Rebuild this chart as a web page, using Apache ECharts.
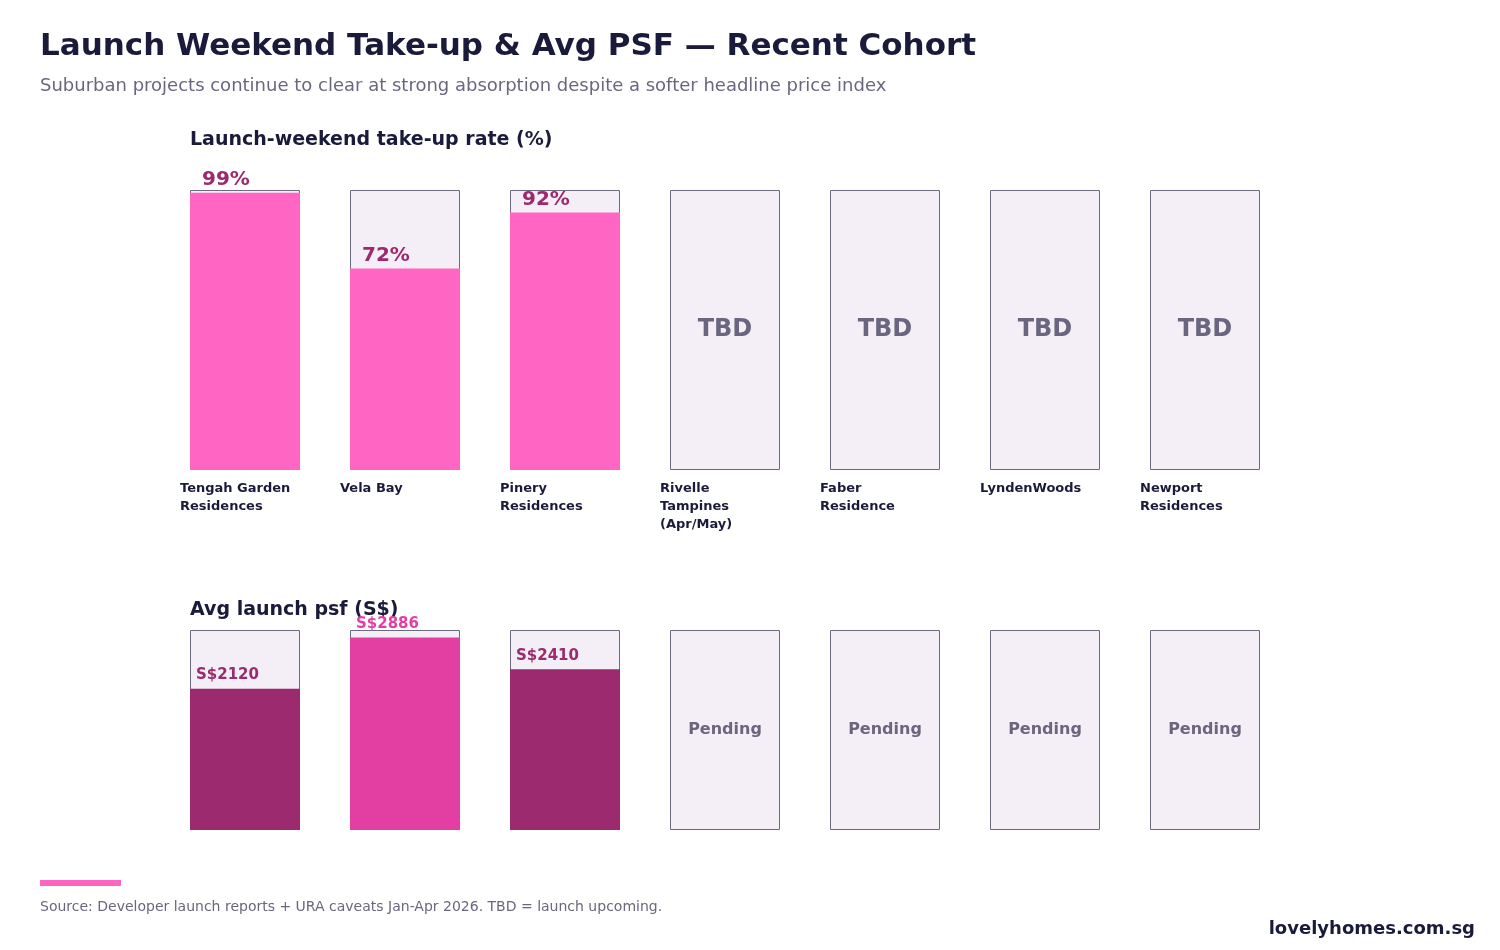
<!DOCTYPE html>
<html><head><meta charset="utf-8">
<script src="https://cdn.jsdelivr.net/npm/echarts@6/dist/echarts.min.js"></script>
<style>html,body{margin:0;padding:0;background:#fff}#c{width:1500px;height:950px}</style>
</head><body><div id="c"></div>
<script>
const categories = ['Tengah Garden\nResidences','Vela Bay','Pinery\nResidences','Rivelle\nTampines\n(Apr/May)','Faber\nResidence','LyndenWoods','Newport\nResidences'];
const takeUp = [99, 72, 92, null, null, null, null];
const psf = [2120, 2886, 2410, null, null, null, null];
const takeUpMax = 100;
const psfMax = 3000;
const psfColors = ['#9b2a6e', '#e33fa3', '#9b2a6e'];

const F = 'DejaVu Sans, sans-serif';
const chart = echarts.init(document.getElementById('c'));
const bgStyle = {color: '#f4eef6', borderColor: '#6b6b80', borderWidth: 1};
function bgData(max, txt, size) {
  return categories.map((c, i) => ({
    value: max,
    label: (takeUp[i] == null) ? {show: true, position: 'inside', formatter: txt, color: '#6b6680', fontSize: size, fontWeight: 'bold', fontFamily: F} : {show: false}
  }));
}
chart.setOption({
  animation: false,
  grid: [
    {left: 165, width: 1120, top: 190, height: 280},
    {left: 165, width: 1120, top: 630, height: 200}
  ],
  xAxis: [0, 1].map(g => ({type: 'category', gridIndex: g, data: categories, axisLine: {show: false}, axisTick: {show: false}, axisLabel: {show: false}})),
  yAxis: [
    {gridIndex: 0, min: 0, max: takeUpMax, show: false},
    {gridIndex: 1, min: 0, max: psfMax, show: false}
  ],
  series: [
    {type: 'bar', xAxisIndex: 0, yAxisIndex: 0, barWidth: 110, barGap: '-100%', itemStyle: bgStyle, data: bgData(takeUpMax, 'TBD', 24), silent: true},
    {type: 'bar', xAxisIndex: 0, yAxisIndex: 0, barWidth: 110, barGap: '-100%', itemStyle: {color: '#ff66c4'},
      label: {show: true, position: [12, -3], verticalAlign: 'bottom', align: 'left', formatter: p => p.value + '%', color: '#9b2a6e', fontSize: 20, fontWeight: 'bold', fontFamily: F},
      data: takeUp},
    {type: 'bar', xAxisIndex: 1, yAxisIndex: 1, barWidth: 110, barGap: '-100%', itemStyle: bgStyle, data: bgData(psfMax, 'Pending', 16), silent: true},
    {type: 'bar', xAxisIndex: 1, yAxisIndex: 1, barWidth: 110, barGap: '-100%',
      data: psf.map((v, i) => v == null ? null : ({value: v, itemStyle: {color: psfColors[i]},
        label: {show: true, position: [6, -6], verticalAlign: 'bottom', align: 'left', formatter: 'S$' + v, color: psfColors[i], fontSize: 15, fontWeight: 'bold', fontFamily: F}}))}
  ]
});
const g = [
  {type: 'text', left: 40, top: 31, style: {text: 'Launch Weekend Take-up & Avg PSF — Recent Cohort', font: 'bold 31px ' + F, fill: '#1a1a3a'}},
  {type: 'text', left: 40, top: 77, style: {text: 'Suburban projects continue to clear at strong absorption despite a softer headline price index', font: '18px ' + F, fill: '#6b6680'}},
  {type: 'text', left: 190, top: 131, style: {text: 'Launch-weekend take-up rate (%)', font: 'bold 19px ' + F, fill: '#1a1a3a'}},
  {type: 'text', left: 190, top: 601, style: {text: 'Avg launch psf (S$)', font: 'bold 19px ' + F, fill: '#1a1a3a'}},
  {type: 'rect', shape: {x: 40, y: 880, width: 81, height: 6}, style: {fill: '#ff66c4'}},
  {type: 'text', left: 40, top: 900, style: {text: 'Source: Developer launch reports + URA caveats Jan-Apr 2026. TBD = launch upcoming.', font: '14px ' + F, fill: '#6b6680'}},
  {type: 'text', right: 25, top: 920, style: {text: 'lovelyhomes.com.sg', font: 'bold 18px ' + F, fill: '#1a1a3a'}}
];
categories.forEach((c, i) => {
  const x = chart.convertToPixel({xAxisIndex: 0}, i) - 65;
  g.push({type: 'text', left: x, top: 480, style: {text: c, font: 'bold 13px ' + F, lineHeight: 18, fill: '#1a1a3a'}});
});
chart.setOption({graphic: g});
</script></body></html>
